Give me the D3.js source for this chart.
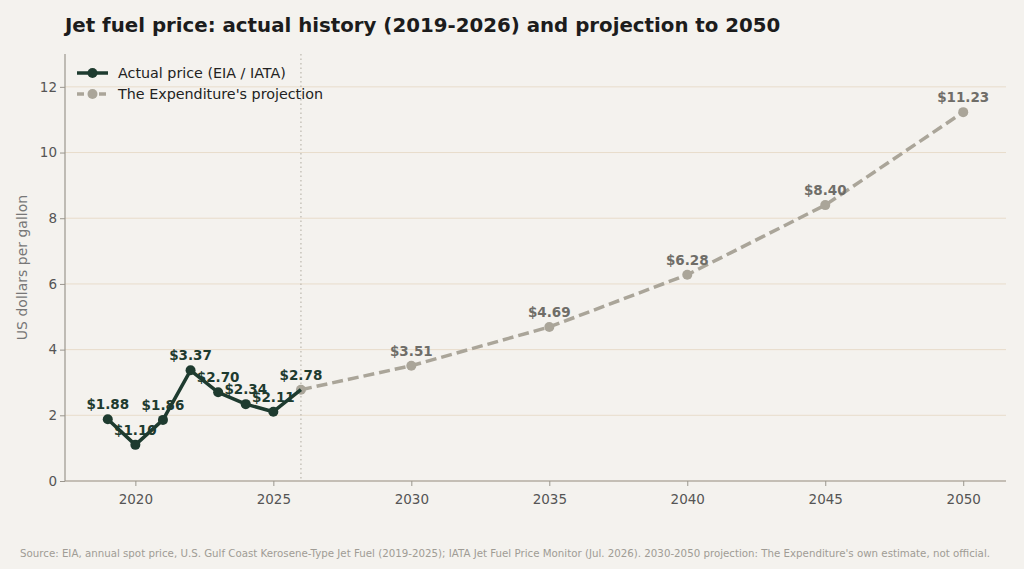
<!DOCTYPE html>
<html>
<head>
<meta charset="utf-8">
<script src="https://cdn.jsdelivr.net/npm/d3@7"></script>
<style>
  body { margin: 0; background: #f4f2ee; }
  svg { display: block; font-family: "DejaVu Sans", sans-serif; }
</style>
</head>
<body>
<svg id="chart" width="1024" height="569"></svg>
<script>
// actual prices, EIA / IATA
const actualYears = [2019, 2020, 2021, 2022, 2023, 2024, 2025, 2026];
const actualPrices = [1.88, 1.10, 1.86, 3.37, 2.70, 2.34, 2.11, 2.78];
// projection
const projYears = [2026, 2030, 2035, 2040, 2045, 2050];
const projPrices = [2.78, 3.51, 4.69, 6.28, 8.40, 11.23];

const xTicks = [2020, 2025, 2030, 2035, 2040, 2045, 2050];
const yTicks = [0, 2, 4, 6, 8, 10, 12];

const dark = "#1e3b2f", grey = "#aaa599";

const svg = d3.select("#chart");
const m = { left: 65, right: 1006, top: 54, bottom: 481 };

const x = d3.scaleLinear().domain([2017.45, 2051.55]).range([m.left, m.right]);
const y = d3.scaleLinear().domain([0, 13]).range([m.bottom, m.top]);

svg.append("rect").attr("width", 1024).attr("height", 569).attr("fill", "#f4f2ee");

// grid
svg.append("g").selectAll("line").data(yTicks).join("line")
  .attr("x1", m.left).attr("x2", m.right)
  .attr("y1", d => y(d)).attr("y2", d => y(d))
  .attr("stroke", "#e8dccb").attr("stroke-width", 1);

// divider at 2026
svg.append("line")
  .attr("x1", x(2026)).attr("x2", x(2026))
  .attr("y1", m.top).attr("y2", m.bottom)
  .attr("stroke", "#bbb7ae").attr("stroke-width", 1.2)
  .attr("stroke-dasharray", "1.5,3");

// axes
const xAxis = svg.append("g").attr("transform", `translate(0,${m.bottom})`)
  .call(d3.axisBottom(x).tickValues(xTicks).tickFormat(d3.format("d")).tickSize(5).tickSizeOuter(0));
const yAxis = svg.append("g").attr("transform", `translate(${m.left},0)`)
  .call(d3.axisLeft(y).tickValues(yTicks).tickSize(5).tickSizeOuter(0));
[xAxis, yAxis].forEach(a => {
  a.select(".domain").attr("stroke", "#9a968e").attr("stroke-width", 1.2);
  a.selectAll(".tick line").attr("stroke", "#9a968e");
  a.selectAll("text").attr("font-size", 13.5).attr("fill", "#555")
    .attr("font-family", "DejaVu Sans, sans-serif");
});
xAxis.selectAll("text").attr("dy", "1.1em");
xAxis.select(".domain").attr("d", `M${m.left},0H${m.right}`);
yAxis.select(".domain").attr("d", `M0,${m.bottom}V${m.top}`);

svg.append("text")
  .attr("transform", `translate(27,${(m.top + m.bottom) / 2}) rotate(-90)`)
  .attr("text-anchor", "middle").attr("font-size", 14).attr("fill", "#777")
  .text("US dollars per gallon");

const line = d3.line().x(d => x(d[0])).y(d => y(d[1]));
const proj = d3.zip(projYears, projPrices);
const act = d3.zip(actualYears, actualPrices);

svg.append("path").datum(proj).attr("d", line)
  .attr("fill", "none").attr("stroke", grey).attr("stroke-width", 3.5)
  .attr("stroke-dasharray", "11,5");
svg.append("g").selectAll("circle").data(proj).join("circle")
  .attr("cx", d => x(d[0])).attr("cy", d => y(d[1])).attr("r", 5).attr("fill", grey);

svg.append("path").datum(act).attr("d", line)
  .attr("fill", "none").attr("stroke", dark).attr("stroke-width", 3.5)
  .attr("stroke-linejoin", "round");
svg.append("g").selectAll("circle").data(act.slice(0, -1)).join("circle")
  .attr("cx", d => x(d[0])).attr("cy", d => y(d[1])).attr("r", 5).attr("fill", dark);

// value labels
svg.append("g").selectAll("text").data(act).join("text")
  .attr("x", d => x(d[0])).attr("y", d => y(d[1]) - 10)
  .attr("text-anchor", "middle").attr("font-size", 13.5).attr("font-weight", "bold")
  .attr("fill", dark).text(d => "$" + d[1].toFixed(2));
svg.append("g").selectAll("text").data(proj.slice(1)).join("text")
  .attr("x", d => x(d[0])).attr("y", d => y(d[1]) - 10)
  .attr("text-anchor", "middle").attr("font-size", 13.5).attr("font-weight", "bold")
  .attr("fill", "#6f6d68").text(d => "$" + d[1].toFixed(2));

// legend
const legend = [
  { label: "Actual price (EIA / IATA)", color: dark, dash: null },
  { label: "The Expenditure's projection", color: grey, dash: "7,4" }
];
const lg = svg.append("g").selectAll("g").data(legend).join("g")
  .attr("transform", (d, i) => `translate(77,${73 + i * 21})`);
lg.append("line").attr("x1", 0).attr("x2", 31)
  .attr("stroke", d => d.color).attr("stroke-width", 3.5)
  .attr("stroke-dasharray", d => d.dash);
lg.append("circle").attr("cx", 15.5).attr("r", 5).attr("fill", d => d.color);
lg.append("text").attr("x", 41).attr("dy", "0.35em").attr("font-size", 14.3)
  .attr("fill", "#222").text(d => d.label);

// title
svg.append("text").attr("x", 65).attr("y", 32)
  .attr("font-size", 19.8).attr("font-weight", "bold").attr("fill", "#1c1c1c")
  .text("Jet fuel price: actual history (2019-2026) and projection to 2050");

// source
svg.append("text").attr("x", 20).attr("y", 557)
  .attr("font-size", 10).attr("fill", "#a09c95")
  .attr("textLength", 970).attr("lengthAdjust", "spacingAndGlyphs")
  .text("Source: EIA, annual spot price, U.S. Gulf Coast Kerosene-Type Jet Fuel (2019-2025); IATA Jet Fuel Price Monitor (Jul. 2026). 2030-2050 projection: The Expenditure's own estimate, not official.");
</script>
</body>
</html>
